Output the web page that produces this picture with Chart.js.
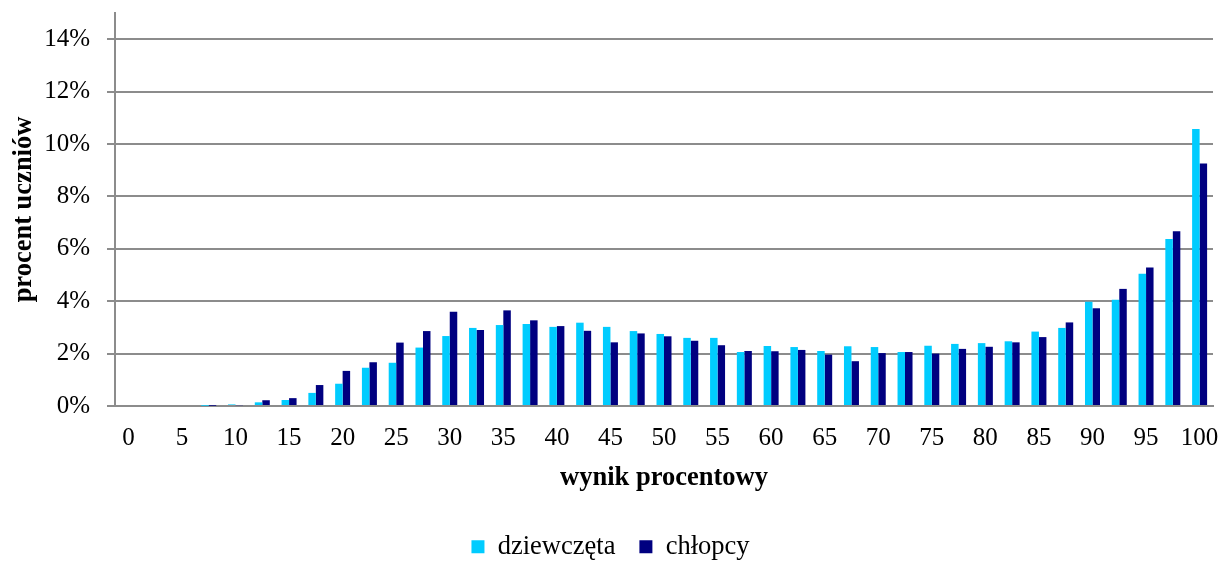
<!DOCTYPE html>
<html>
<head>
<meta charset="utf-8">
<script src="https://cdn.jsdelivr.net/npm/chart.js@4.4.1/dist/chart.umd.min.js"></script>
<style>
  html, body { margin: 0; padding: 0; background: #ffffff; }
  #wrap { width: 1223px; height: 561px; position: relative; }
</style>
</head>
<body>
<div id="wrap"><canvas id="c" width="1223" height="561"></canvas></div>
<script>
const categories = [0, 2.5, 5, 7.5, 10, 12.5, 15, 17.5, 20, 22.5, 25, 27.5, 30, 32.5, 35, 37.5, 40, 42.5, 45, 47.5, 50, 52.5, 55, 57.5, 60, 62.5, 65, 67.5, 70, 72.5, 75, 77.5, 80, 82.5, 85, 87.5, 90, 92.5, 95, 97.5, 100];
const shownLabels = ['0', '5', '10', '15', '20', '25', '30', '35', '40', '45', '50', '55', '60', '65', '70', '75', '80', '85', '90', '95', '100'];
const girls = [0, 0, 0, 0.01, 0.06, 0.14, 0.23, 0.5, 0.85, 1.46, 1.65, 2.23, 2.67, 2.98, 3.09, 3.13, 3.02, 3.18, 3.02, 2.86, 2.75, 2.6, 2.6, 2.06, 2.29, 2.25, 2.1, 2.28, 2.25, 2.06, 2.3, 2.37, 2.4, 2.47, 2.84, 2.98, 3.98, 4.06, 5.05, 6.37, 10.57];
const boys = [0, 0, 0, 0.01, 0.03, 0.22, 0.3, 0.8, 1.34, 1.67, 2.42, 2.86, 3.6, 2.9, 3.65, 3.27, 3.05, 2.87, 2.43, 2.77, 2.66, 2.49, 2.32, 2.1, 2.09, 2.14, 1.96, 1.71, 2.02, 2.06, 2.0, 2.18, 2.26, 2.43, 2.63, 3.19, 3.73, 4.47, 5.29, 6.67, 9.26];
const yTicks = [0, 2, 4, 6, 8, 10, 12, 14];
const seriesNames = ['dziewczęta', 'chłopcy'];
const xTitle = 'wynik procentowy';
const yTitle = 'procent uczniów';

const serif = "'Liberation Serif', 'Times New Roman', serif";
const gridColor = '#8c8c8c';

new Chart(document.getElementById('c'), {
  type: 'bar',
  data: {
    labels: categories,
    datasets: [
      { label: seriesNames[0], data: girls, backgroundColor: '#00CCFF', borderWidth: 0 },
      { label: seriesNames[1], data: boys, backgroundColor: '#000080', borderWidth: 0 }
    ]
  },
  options: {
    responsive: false,
    animation: false,
    devicePixelRatio: 1,
    layout: { padding: { left: 8, right: 10, top: 13, bottom: -9 } },
    datasets: { bar: { barPercentage: 1.0, categoryPercentage: 0.56 } },
    plugins: {
      tooltip: { enabled: false },
      legend: {
        position: 'bottom',
        labels: {
          color: '#000',
          font: { family: serif, size: 26.5 },
          boxWidth: 13,
          boxHeight: 13,
          padding: 24
        }
      }
    },
    scales: {
      x: {
        grid: { display: false, drawTicks: false },
        border: { display: true, color: gridColor, width: 2 },
        afterFit: function (scale) {
          scale.height = 103.5;
          scale.paddingLeft = 0;
          scale.paddingRight = 0;
        },
        ticks: {
          color: '#000',
          font: { family: serif, size: 25 },
          maxRotation: 0,
          autoSkip: false,
          padding: 17.5,
          callback: function (v, i) {
            return (i % 2 === 0) ? shownLabels[i / 2] : '';
          }
        },
        title: {
          display: true,
          text: xTitle,
          color: '#000',
          font: { family: serif, size: 26.5, weight: 'bold' },
          padding: { top: 0, bottom: 15.6 }
        }
      },
      y: {
        min: 0,
        max: 15,
        grid: { color: gridColor, lineWidth: 2, drawTicks: true, tickLength: 8, tickColor: gridColor },
        border: { display: true, color: gridColor, width: 2 },
        afterBuildTicks: function (axis) {
          axis.ticks = yTicks.map(v => ({ value: v }));
        },
        afterFit: function (scale) {
          scale.width = 107;
          scale.paddingTop = 0;
          scale.paddingBottom = 0;
        },
        ticks: {
          color: '#000',
          font: { family: serif, size: 25 },
          padding: 17,
          callback: function (v) { return v + '%'; }
        },
        title: {
          display: true,
          text: yTitle,
          color: '#000',
          font: { family: serif, size: 26.5, weight: 'bold' },
          padding: { top: 0, bottom: 8 }
        }
      }
    }
  }
});
</script>
</body>
</html>
